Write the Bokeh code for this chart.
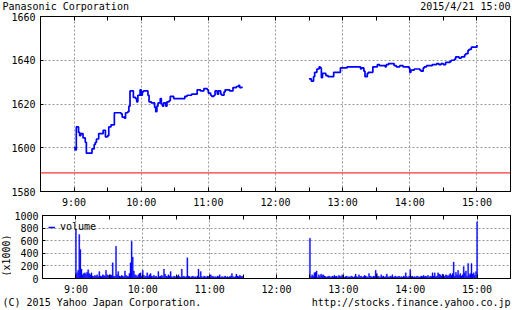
from math import pi
from bokeh.plotting import figure
from bokeh.layouts import column, row
from bokeh.models import (Range1d, FixedTicker, LinearAxis, Span, Label, Legend, LegendItem,
                          ColumnDataSource)
from bokeh.embed import file_html
from bokeh.resources import INLINE

# ---------------- data ----------------
title_text = "Panasonic Corporation"
date_text = "2015/4/21 15:00"
unit_text = "(x1000)"
legend_text = "volume"
copyright_text = "(C) 2015 Yahoo Japan Corporation."
url_text = "http://stocks.finance.yahoo.co.jp"
prev_close = 1588.5

tick_hours = [9, 10, 11, 12, 13, 14, 15]
tick_labels = ["9:00", "10:00", "11:00", "12:00", "13:00", "14:00", "15:00"]
half_hours = [8.5, 9.5, 10.5, 11.5, 12.5, 13.5, 14.5, 15.5]
price_ticks = [1580, 1600, 1620, 1640, 1660]
volume_ticks = [0, 200, 400, 600, 800, 1000]

am_start = 9 * 60          # 9:00
pm_start = 12 * 60 + 30    # 12:30

# morning session: minutes after 9:00 where price changed, and price (yen)
am_min = [0, 1, 2, 4, 5, 6, 8, 10, 11, 16, 18, 19, 20, 22, 26, 28, 30, 31, 33, 36,
          42, 43, 45, 46, 48, 49, 50, 53, 55, 56, 57, 59, 60, 61, 62, 66, 67, 69, 72, 73,
          74, 75, 77, 78, 79, 80, 82, 83, 85, 86, 89, 99, 101, 105, 110, 113, 116, 119, 120, 122,
          123, 125, 126, 128, 129, 131, 132, 134, 135, 139, 142, 145, 147, 148, 150]
am_price = [1600, 1599, 1609.5, 1607, 1605.5, 1606.5, 1604.5, 1602.5, 1597.5, 1599.5,
            1601.5, 1602.5, 1604, 1606.5, 1608, 1605, 1605.5, 1609.5, 1610.5, 1616,
            1615.5, 1614, 1613.5, 1616, 1616.5, 1619, 1626, 1623, 1622.5, 1621,
            1624, 1626.5, 1624, 1625.5, 1626, 1624, 1621, 1620.5, 1618.5, 1616.5,
            1619, 1620.5, 1622.5, 1620, 1619, 1620.5, 1619, 1621, 1621.5, 1623.5,
            1622.5, 1623.5, 1624, 1624.5, 1626.5, 1626, 1627, 1626.5, 1625, 1624,
            1623.5, 1624, 1626, 1624.5, 1626, 1624.5, 1624, 1625.5, 1626.5, 1626,
            1627.5, 1628, 1628.5, 1627.5, 1628]

# afternoon session: minutes after 12:30 where price changed, and price (yen)
pm_min = [0, 2, 4, 5, 7, 9, 10, 11, 12, 15, 17, 22, 28, 34, 46, 47, 49, 50, 52, 53,
          57, 61, 63, 68, 69, 71, 76, 78, 81, 84, 89, 90, 91, 94, 99, 100, 102, 103, 105, 110,
          114, 116, 118, 120, 122, 126, 127, 130, 131, 134, 136, 139, 140, 142, 143, 145, 150]
pm_price = [1631.5, 1630.5, 1632.5, 1634.5, 1636, 1637, 1636.5, 1632, 1634, 1633,
            1632.5, 1634.5, 1636.5, 1637, 1636, 1636.5, 1635, 1632.5, 1634, 1634.5,
            1637, 1638, 1637.5, 1637, 1638, 1638.5, 1637.5, 1637, 1637.5, 1637,
            1636.5, 1634.5, 1635.5, 1636, 1635.5, 1635, 1636.5, 1637, 1637.5, 1638,
            1638.5, 1638, 1638.5, 1638, 1639, 1639.5, 1640, 1640.5, 1641.5, 1641,
            1641.5, 1642.5, 1643, 1644.5, 1645, 1646, 1647]

# per-minute volume (x1000 shares), 9:00-11:30 and 12:30-15:00
am_volume = [770, 90, 130, 700, 460, 150, 60, 80, 90, 70,
             100, 140, 80, 60, 90, 40, 30, 50, 40, 60,
             30, 110, 40, 30, 60, 50, 40, 130, 60, 50,
             40, 60, 50, 250, 40, 30, 510, 60, 110, 40,
             30, 50, 40, 30, 120, 50, 40, 30, 80, 250,
             590, 340, 120, 60, 50, 30, 60, 80, 90, 40,
             130, 50, 30, 40, 90, 30, 60, 80, 40, 30,
             50, 30, 40, 20, 110, 30, 40, 50, 30, 150,
             70, 40, 30, 60, 40, 110, 30, 20, 40, 30,
             20, 40, 60, 30, 20, 150, 30, 40, 20, 30,
             330, 40, 30, 20, 30, 40, 20, 30, 20, 40,
             150, 20, 110, 30, 20, 40, 30, 20, 40, 30,
             20, 60, 30, 40, 20, 30, 20, 40, 30, 60,
             20, 30, 20, 30, 40, 20, 30, 20, 30, 40,
             80, 30, 20, 30, 70, 40, 30, 50, 40, 30,
             40]
pm_volume = [640, 30, 60, 40, 90, 100, 120, 20, 60, 40,
             70, 50, 60, 40, 30, 20, 30, 40, 30, 20,
             40, 30, 50, 30, 40, 20, 50, 40, 30, 60,
             30, 20, 30, 40, 20, 30, 20, 40, 30, 20,
             30, 70, 30, 20, 60, 30, 40, 20, 30, 50,
             40, 30, 20, 80, 40, 30, 20, 40, 30, 130,
             80, 40, 30, 20, 60, 30, 40, 20, 30, 70,
             30, 20, 40, 30, 60, 20, 30, 40, 20, 30,
             40, 20, 30, 20, 40, 30, 90, 30, 20, 40,
             140, 30, 40, 20, 30, 20, 40, 30, 20, 30,
             40, 30, 50, 30, 40, 30, 50, 20, 40, 30,
             90, 40, 90, 30, 40, 90, 70, 60, 40, 70,
             30, 40, 60, 50, 40, 60, 80, 50, 80, 260,
             40, 100, 60, 130, 50, 80, 40, 60, 190, 90,
             120, 40, 240, 60, 80, 240, 70, 90, 50, 110,
             900]

# ---------------- styling ----------------
FONT = "DejaVu Sans Mono"
FS = "10px"
BLUE = "#0000FF"
GRID = "#999999"
X0, X1 = 8.5 * 60, 15.5 * 60

x_ticks = [h * 60 for h in tick_hours]
x_minor = [h * 60 for h in half_hours]
overrides = {t: lab for t, lab in zip(x_ticks, tick_labels)}


def style_axis(ax):
    ax.major_label_text_font = FONT
    ax.major_label_text_font_size = FS
    ax.major_label_text_color = "black"
    ax.axis_line_color = "black"
    ax.major_tick_line_color = "black"
    ax.minor_tick_line_color = "black"
    ax.major_tick_out = 0
    ax.minor_tick_out = 0


def text_strip(width, height):
    f = figure(width=width, height=height, x_range=Range1d(0, width), y_range=Range1d(0, height),
               output_backend="svg", toolbar_location=None,
               x_axis_location=None, y_axis_location=None,
               min_border=0, min_border_left=0, min_border_right=0,
               min_border_top=0, min_border_bottom=0)
    f.frame_align = False
    f.outline_line_color = None
    f.xgrid.visible = False
    f.ygrid.visible = False
    f.background_fill_color = "white"
    f.border_fill_color = "white"
    return f


def make_fig(width, height, yr, left, top, bottom):
    f = figure(width=width, height=height, x_range=Range1d(X0, X1), y_range=yr,
               output_backend="svg", toolbar_location=None,
               min_border_left=left, min_border_right=2,
               min_border_top=top, min_border_bottom=bottom)
    f.frame_align = False
    f.background_fill_color = "white"
    f.border_fill_color = "white"
    f.outline_line_color = "black"
    f.outline_line_alpha = 1
    f.outline_line_width = 1
    xa = f.xaxis[0]
    xa.ticker = FixedTicker(ticks=x_ticks, minor_ticks=x_minor)
    xa.major_label_overrides = overrides
    style_axis(xa)
    xa.major_tick_in = 4
    xa.minor_tick_in = 4
    top_ax = LinearAxis(ticker=FixedTicker(ticks=x_ticks, minor_ticks=x_minor))
    style_axis(top_ax)
    top_ax.major_label_text_font_size = "0px"
    top_ax.major_label_standoff = 0
    top_ax.major_label_overrides = {t: "" for t in x_ticks}
    top_ax.major_tick_in = 4
    top_ax.minor_tick_in = 4
    f.add_layout(top_ax, "above")
    f.xgrid.ticker = FixedTicker(ticks=x_ticks)
    for g in (f.xgrid[0], f.ygrid[0]):
        g.grid_line_color = GRID
        g.grid_line_dash = "2 2"
        g.grid_line_width = 1
    return f


def label(x, y, text, align="left", angle=0.0):
    return Label(x=x, y=y, x_units="screen", y_units="screen", text=text, angle=angle,
                 text_font=FONT, text_font_size=FS, text_baseline="middle",
                 text_align=align, text_color="black")


# ---------------- header ----------------
header = text_strip(512, 12)
header.add_layout(label(2, 6, title_text))
header.add_layout(label(510, 6, date_text, align="right"))

# ---------------- price panel ----------------
p1 = make_fig(512, 198, Range1d(1580, 1660), 40, 4, 18)
p1.xaxis[0].major_label_standoff = 2
ya = p1.yaxis[0]
ya.ticker = FixedTicker(ticks=price_ticks, minor_ticks=[])
style_axis(ya)
ya.major_tick_in = 3
ya.major_label_standoff = 5
p1.ygrid.ticker = FixedTicker(ticks=price_ticks)

p1.add_layout(Span(location=prev_close, dimension="width", line_color="#FF0000", line_width=1))

am_src = ColumnDataSource(dict(t=[am_start + m for m in am_min], p=am_price))
pm_src = ColumnDataSource(dict(t=[pm_start + m for m in pm_min], p=pm_price))
p1.step("t", "p", source=am_src, mode="after", line_color=BLUE, line_width=1.7)
p1.step("t", "p", source=pm_src, mode="after", line_color=BLUE, line_width=1.7)

# ---------------- volume panel ----------------
strip = text_strip(11, 87)
strip.add_layout(label(6, 42, unit_text, align="center", angle=pi / 2))

p2 = make_fig(501, 87, Range1d(0, 1000), 29, 5, 16)
p2.xaxis[0].major_label_standoff = 0
yb = p2.yaxis[0]
yb.ticker = FixedTicker(ticks=volume_ticks, minor_ticks=[])
style_axis(yb)
yb.major_tick_in = 3
yb.major_label_standoff = 4
p2.ygrid.ticker = FixedTicker(ticks=volume_ticks)

vol_t = [am_start + i for i in range(len(am_volume))] + [pm_start + i for i in range(len(pm_volume))]
vol_src = ColumnDataSource(dict(t=vol_t, v=am_volume + pm_volume))
p2.vbar(x="t", top="v", bottom=0, width=1.0, source=vol_src,
        fill_color=BLUE, line_color=BLUE, line_width=0.3)

leg_src = ColumnDataSource(dict(t=[float("nan")], v=[float("nan")]))
leg_line = p2.line(x="t", y="v", source=leg_src, line_color=BLUE, line_width=1.5)
legend = Legend(items=[LegendItem(label=legend_text, renderers=[leg_line])],
                location=(6, 46), padding=5, margin=0,
                border_line_color=None, background_fill_alpha=0,
                glyph_width=7, glyph_height=10, label_height=10, label_standoff=5,
                label_text_font=FONT, label_text_font_size=FS, label_text_color="black")
p2.add_layout(legend)

# ---------------- footer ----------------
footer = text_strip(512, 13)
footer.add_layout(label(2, 8, copyright_text))
footer.add_layout(label(510, 8, url_text, align="right"))

layout = column(header, p1, row(strip, p2, spacing=0), footer, spacing=0)
open("out.html", "w").write(file_html(layout, INLINE))
